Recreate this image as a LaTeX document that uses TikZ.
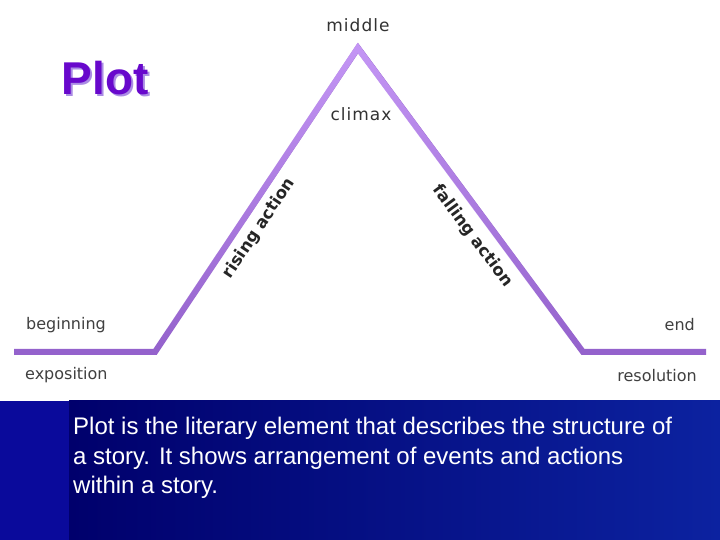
\documentclass[tikz,border=0pt]{standalone}
\usepackage{fontspec}
\newfontfamily\verd{DejaVu Sans}
\newfontfamily\verdsp[LetterSpace=6]{DejaVu Sans}
\newfontfamily\arial{Liberation Sans}
\usetikzlibrary{positioning,fadings}
\definecolor{plotline}{RGB}{148,98,204}
\definecolor{plottop}{RGB}{196,150,245}
\definecolor{plotpurple}{RGB}{104,8,204}
\definecolor{plotshadow}{RGB}{170,140,228}
\definecolor{labgray}{RGB}{50,50,50}
\definecolor{bandleft}{RGB}{10,10,155}
\definecolor{banddark}{RGB}{0,0,108}
\definecolor{bandlight}{RGB}{12,34,160}

\begin{document}
\begin{tikzpicture}[x=1pt,y=1pt,
 curve/.style={line width=6pt,line join=miter},
 toplab/.style={font=\verdsp\fontsize{17}{18}\selectfont,text=labgray,inner sep=0pt},
 sidelab/.style={font=\verd\fontsize{16}{18}\selectfont,text=black!75,inner sep=0pt},
 slopelab/.style={font=\verd\bfseries\fontsize{16.5}{18}\selectfont,text=black!85,sloped,below,inner sep=7pt}]
\useasboundingbox (0,0) rectangle (720,540);
\fill[white] (0,0) rectangle (720,540);
% blue band
\fill[bandleft] (0,0) rectangle (69,139);
\shade[left color=banddark,right color=bandlight] (69,0) rectangle (720,139);
% title
\node[font=\arial\bfseries\fontsize{46}{50}\selectfont,text=plotshadow] at (107,460) {Plot};
\node[font=\arial\bfseries\fontsize{46}{50}\selectfont,text=plotpurple] (title) at (105,462) {Plot};
% plot line
\coordinate (p0) at (14,188);
\coordinate (p1) at (155,188);
\coordinate (apex) at (358,492);
\coordinate (p2) at (583,188);
\coordinate (p3) at (706,188);
\draw[curve,draw=plotline] (p0) -- (p1) -- node[slopelab,pos=0.44] (rise) {rising action} (apex)
 -- node[slopelab,pos=0.58,inner sep=9pt] (fall) {falling action} (p2) -- (p3);
\draw[curve,draw=plottop,path fading=south] (p1) -- (apex) -- (p2);
\node[toplab] (middle) at (358,515) {middle};
\node[toplab] (climax) at (361,426) {climax};
\node[sidelab,anchor=west] (begin) at (26,215) {beginning};
\node[sidelab,anchor=west] (expo) at (25,165) {exposition};
\node[sidelab,anchor=east] (end) at (695,215) {end};
\node[sidelab,anchor=east] (reso) at (697,164) {resolution};
% text
\node[font=\arial\fontsize{24}{29.5}\selectfont,text=white,align=left,anchor=north west,inner sep=0pt] (desc) at (73,123)
 {Plot is the literary element that describes the structure of\\
  a story. It shows arrangement of events and actions\\
  within a story.};
\end{tikzpicture}
\end{document}
